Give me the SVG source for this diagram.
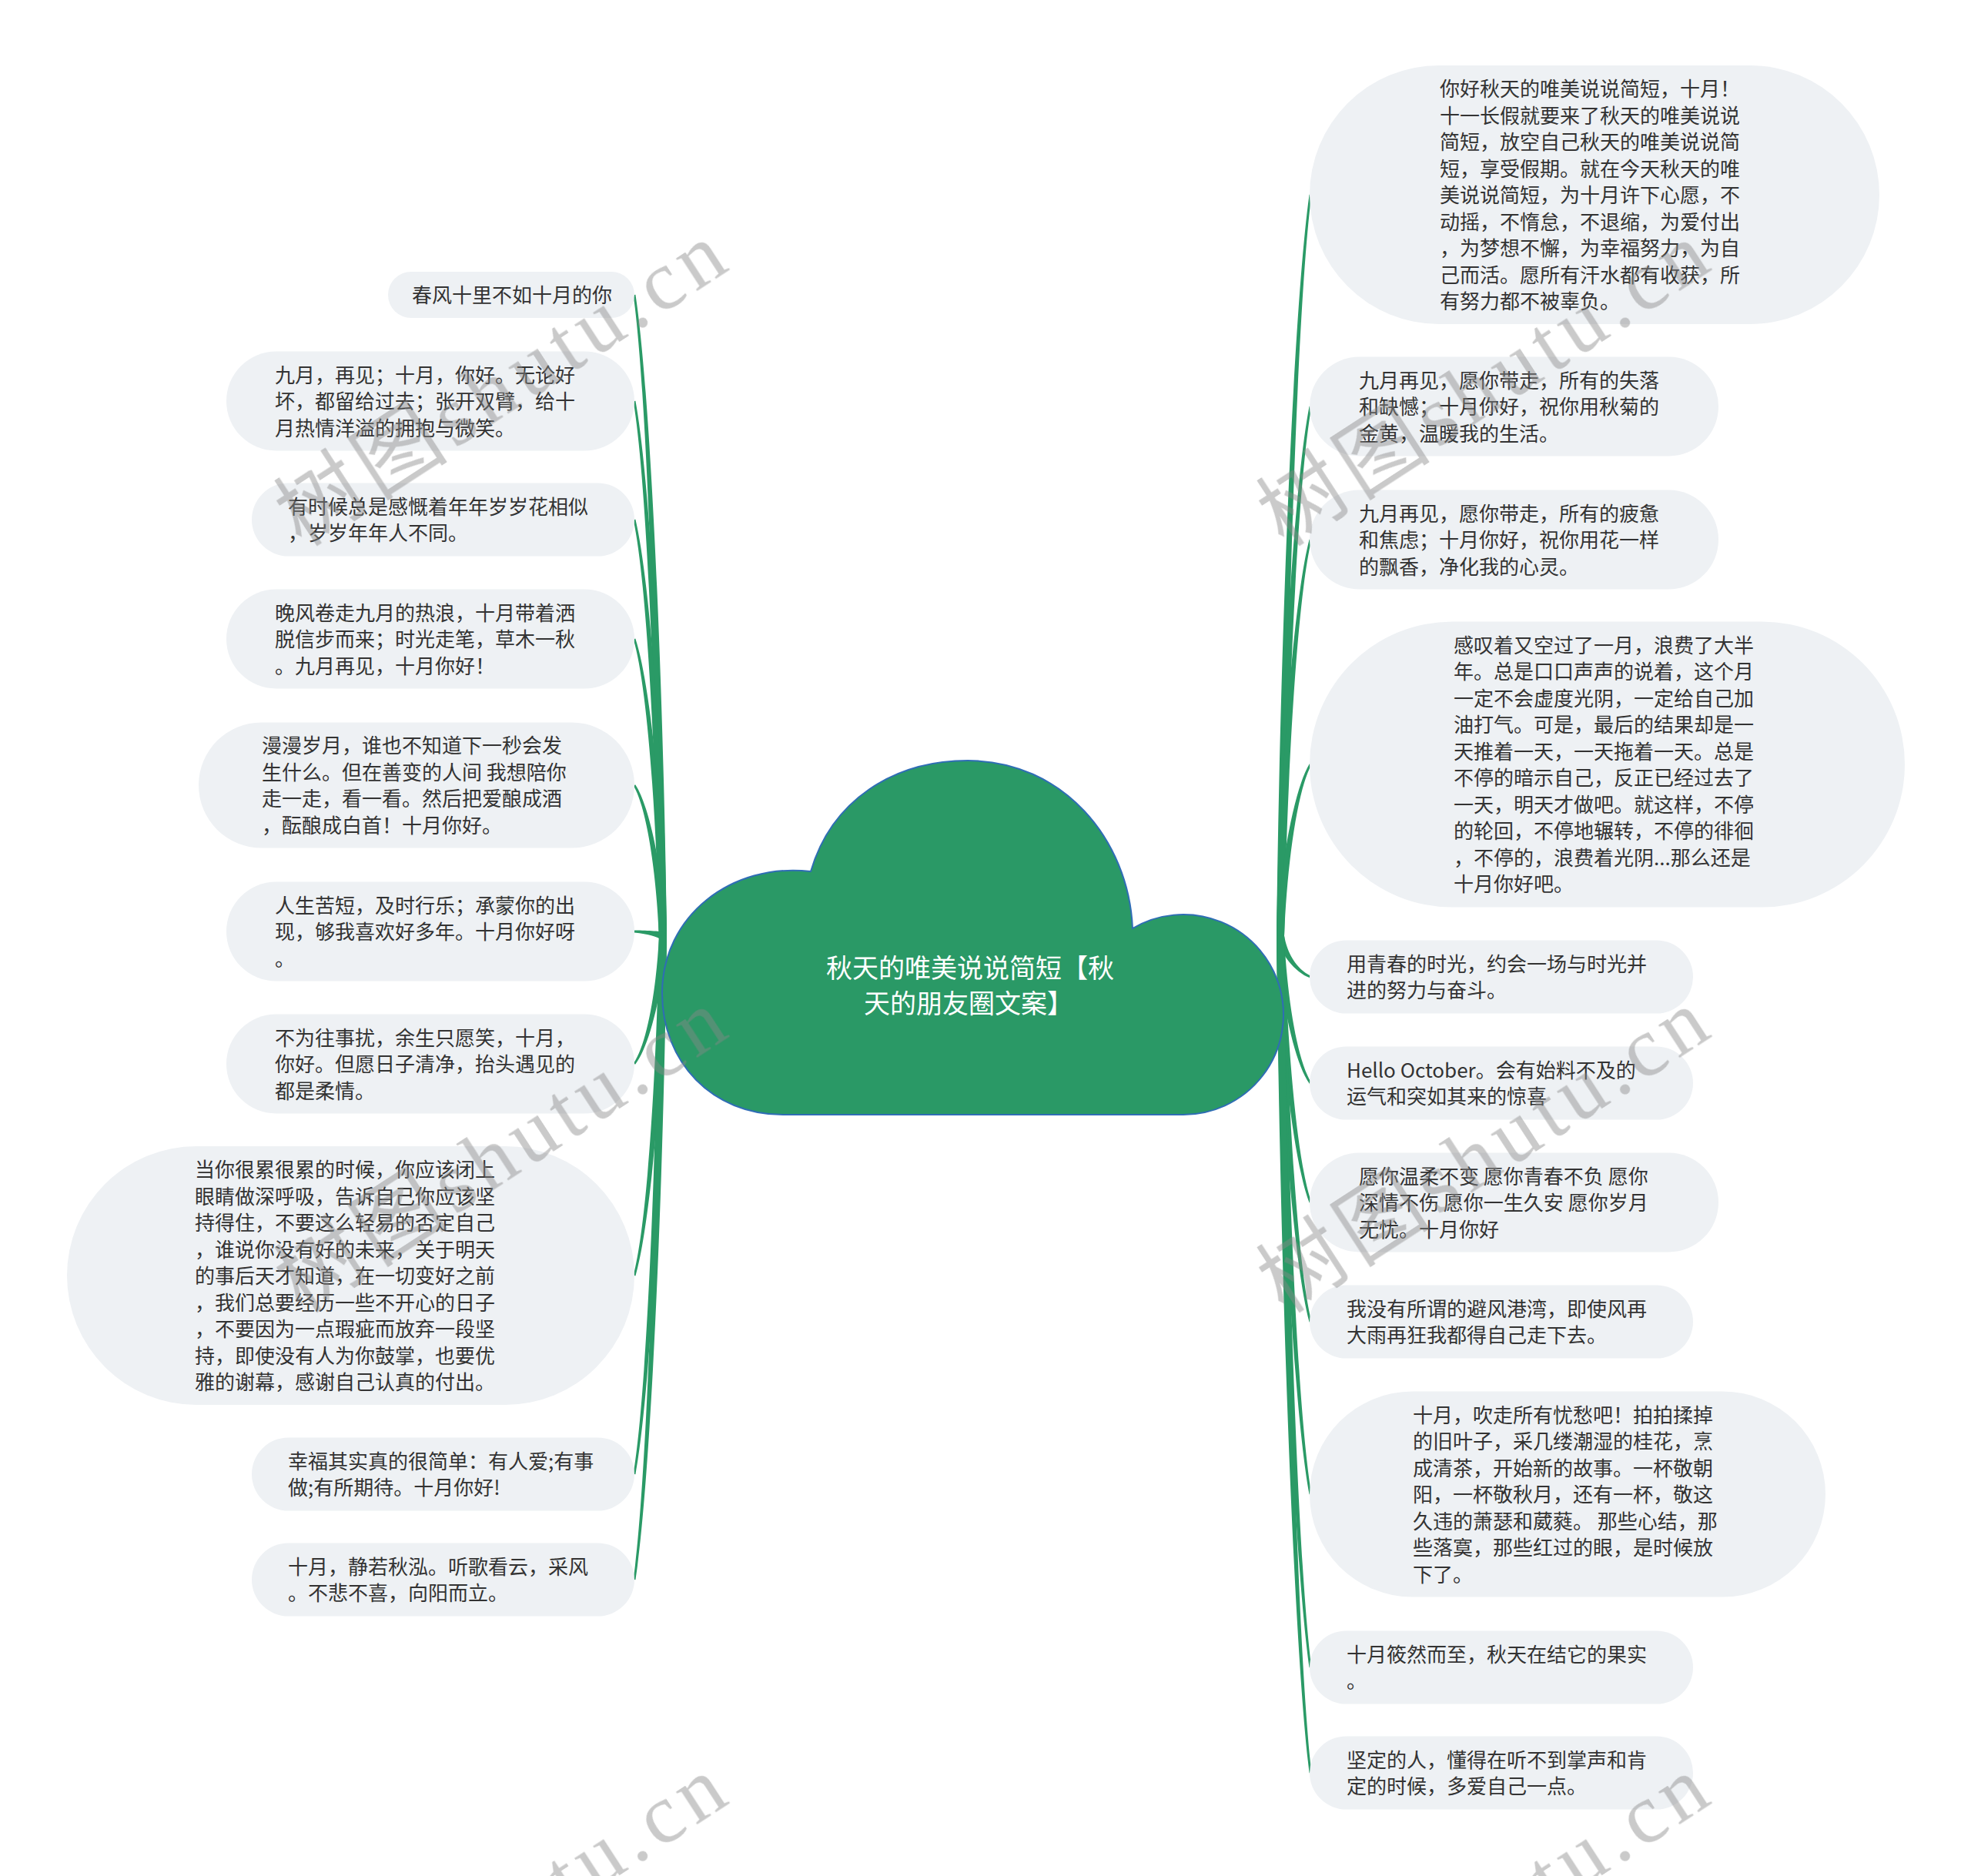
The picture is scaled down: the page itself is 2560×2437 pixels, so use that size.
<svg xmlns="http://www.w3.org/2000/svg" width="2560" height="2437" viewBox="0 0 2560 2437">
<style>
.bg{fill:#ffffff}
.node rect{fill:#eef1f4}
.node text{font-family:"Noto Sans CJK SC","Liberation Sans",sans-serif;font-size:26px;fill:#333333}
.br{fill:#2a9a66}
.root-shape{fill:#2a9966;stroke:#2f6db5;stroke-width:2}
.root-text{font-family:"Noto Sans CJK SC","Liberation Sans",sans-serif;font-size:34px;fill:#ffffff;text-anchor:middle}
.wm text{font-family:"Liberation Serif","Noto Sans CJK SC",serif;font-size:110px;fill:#888888}
</style>
<rect class="bg" x="0" y="0" width="2560" height="2437"/>

<g id="connectors">
<path class="br" d="M866,1215.9 C861.8,882.8 844.7,507.7 825.4,382.8 L822.6,383.2 C840.3,508.3 852.8,882.9 856,1216.1 Z"/>
<path class="br" d="M866,1215.9 C861.8,937.9 844.7,624.9 825.4,520.8 L822.6,521.2 C840.3,625.6 852.8,938.1 856,1216.1 Z"/>
<path class="br" d="M866,1215.9 C861.8,999.5 844.7,755.7 825.4,674.7 L822.6,675.3 C840.4,756.6 852.8,999.7 856,1216.1 Z"/>
<path class="br" d="M866,1215.9 C861.8,1061.5 844.6,887.2 825.3,829.6 L822.7,830.4 C840.4,888.6 852.8,1061.7 856,1216.1 Z"/>
<path class="br" d="M866,1215.8 C861.8,1137.4 844.4,1048.2 825.2,1019.3 L822.8,1020.8 C840.6,1050.6 852.8,1137.8 856,1216.2 Z"/>
<path class="br" d="M863.7,1211.8 C859.8,1209.8 842.6,1208.7 824.1,1208.6 L823.9,1211.4 C842.4,1213.1 854.9,1217.4 858.3,1220.2 Z"/>
<path class="br" d="M866,1216.3 C861.8,1282.7 844.3,1358.4 825.1,1382.8 L822.9,1381.2 C840.7,1355.8 852.8,1282.2 856,1215.7 Z"/>
<path class="br" d="M866,1216.1 C861.8,1392.5 844.6,1591.4 825.4,1657.4 L822.7,1656.6 C840.4,1590.3 852.8,1392.3 856,1215.9 Z"/>
<path class="br" d="M866,1216.1 C861.8,1495.7 844.7,1810.5 825.4,1915.2 L822.6,1914.8 C840.3,1809.8 852.8,1495.5 856,1215.9 Z"/>
<path class="br" d="M866,1216.1 C861.8,1550.5 844.7,1926.9 825.4,2052.2 L822.6,2051.8 C840.3,1926.3 852.8,1550.4 856,1215.9 Z"/>

<path class="br" d="M1668,1216 C1671.4,830.9 1684.7,397.7 1703.4,253.2 L1700.6,252.8 C1680.3,397.2 1662.4,830.8 1658,1216 Z"/>
<path class="br" d="M1668,1216.1 C1671.4,940.9 1684.7,631.6 1703.4,528.3 L1700.6,527.7 C1680.3,630.8 1662.4,940.7 1658,1215.9 Z"/>
<path class="br" d="M1668,1216.1 C1671.4,1010.1 1684.6,778.8 1703.4,701.3 L1700.6,700.7 C1680.4,777.7 1662.4,1009.9 1658,1215.9 Z"/>
<path class="br" d="M1668,1216.2 C1671.4,1127 1684.4,1027.6 1703.2,993.7 L1700.8,992.3 C1680.6,1025.3 1662.4,1126.6 1658,1215.8 Z"/>
<path class="br" d="M1667.9,1215.1 C1671.3,1236.4 1683.3,1259 1702.5,1267.7 L1701.5,1270.3 C1681.7,1263.1 1662.5,1238 1658.1,1216.9 Z"/>
<path class="br" d="M1668,1215.8 C1671.4,1292.2 1684.3,1377.1 1703.2,1406.2 L1700.8,1407.8 C1680.7,1379.6 1662.4,1292.6 1658,1216.3 Z"/>
<path class="br" d="M1668,1215.9 C1671.4,1354.3 1684.6,1509.3 1703.3,1561.5 L1700.7,1562.5 C1680.4,1510.9 1662.4,1354.5 1658,1216.1 Z"/>
<path class="br" d="M1668,1215.9 C1671.4,1416.3 1684.6,1641.3 1703.4,1716.7 L1700.6,1717.4 C1680.4,1642.4 1662.4,1416.5 1658,1216.1 Z"/>
<path class="br" d="M1668,1215.9 C1671.4,1505.9 1684.7,1831.9 1703.4,1940.8 L1700.6,1941.3 C1680.3,1832.6 1662.4,1506.1 1658,1216.1 Z"/>
<path class="br" d="M1668,1216 C1671.4,1596 1684.7,2023.2 1703.4,2165.8 L1700.6,2166.2 C1680.3,2023.8 1662.4,1596 1658,1216 Z"/>
<path class="br" d="M1668,1216 C1671.4,1650.8 1684.7,2139.7 1703.4,2302.8 L1700.6,2303.2 C1680.3,2140.2 1662.4,1650.8 1658,1216 Z"/>
</g>

<g id="root">
<path class="root-shape" d="M1017,1448 C925,1448 860,1380 860,1290 C860,1190 950,1120 1053,1132 C1080,1040 1160,988 1257,988 C1380,988 1466,1090 1471,1206 A130,130 0 1 1 1536,1448 Z"/>
<text class="root-text"><tspan x="1260" y="1270">秋天的唯美说说简短【秋</tspan><tspan x="1258" y="1316">天的朋友圈文案】</tspan></text>
</g>

<g id="L1" class="node"><rect x="504" y="353" width="320" height="60" rx="30"/>
<text><tspan x="535" y="393">春风十里不如十月的你</tspan></text></g>

<g id="L2" class="node"><rect x="294" y="456.5" width="530" height="129" rx="64.5"/>
<text><tspan x="357" y="496.5">九月，再见；十月，你好。无论好</tspan><tspan x="357" dy="34.5">坏，都留给过去；张开双臂，给十</tspan><tspan x="357" dy="34.5">月热情洋溢的拥抱与微笑。</tspan></text></g>

<g id="L3" class="node"><rect x="327" y="627.5" width="497" height="95" rx="47.5"/>
<text><tspan x="374" y="667.8">有时候总是感慨着年年岁岁花相似</tspan><tspan x="374" dy="34.5">，岁岁年年人不同。</tspan></text></g>

<g id="L4" class="node"><rect x="294" y="765.5" width="530" height="129" rx="64.5"/>
<text><tspan x="357" y="805.5">晚风卷走九月的热浪，十月带着洒</tspan><tspan x="357" dy="34.5">脱信步而来；时光走笔，草木一秋</tspan><tspan x="357" dy="34.5">。九月再见，十月你好！</tspan></text></g>

<g id="L5" class="node"><rect x="258" y="938.5" width="566" height="163" rx="81.5"/>
<text><tspan x="340" y="978.3">漫漫岁月，谁也不知道下一秒会发</tspan><tspan x="340" dy="34.5">生什么。但在善变的人间 我想陪你</tspan><tspan x="340" dy="34.5">走一走，看一看。然后把爱酿成酒</tspan><tspan x="340" dy="34.5">，酝酿成白首！十月你好。</tspan></text></g>

<g id="L6" class="node"><rect x="294" y="1145.5" width="530" height="129" rx="64.5"/>
<text><tspan x="357" y="1185.5">人生苦短，及时行乐；承蒙你的出</tspan><tspan x="357" dy="34.5">现，够我喜欢好多年。十月你好呀</tspan><tspan x="357" dy="34.5">。</tspan></text></g>

<g id="L7" class="node"><rect x="294" y="1317.5" width="530" height="129" rx="64.5"/>
<text><tspan x="357" y="1357.5">不为往事扰，余生只愿笑，十月，</tspan><tspan x="357" dy="34.5">你好。但愿日子清净，抬头遇见的</tspan><tspan x="357" dy="34.5">都是柔情。</tspan></text></g>

<g id="L8" class="node"><rect x="87" y="1489" width="737" height="336" rx="168"/>
<text><tspan x="253" y="1529">当你很累很累的时候，你应该闭上</tspan><tspan x="253" dy="34.5">眼睛做深呼吸，告诉自己你应该坚</tspan><tspan x="253" dy="34.5">持得住，不要这么轻易的否定自己</tspan><tspan x="253" dy="34.5">，谁说你没有好的未来，关于明天</tspan><tspan x="253" dy="34.5">的事后天才知道，在一切变好之前</tspan><tspan x="253" dy="34.5">，我们总要经历一些不开心的日子</tspan><tspan x="253" dy="34.5">，不要因为一点瑕疵而放弃一段坚</tspan><tspan x="253" dy="34.5">持，即使没有人为你鼓掌，也要优</tspan><tspan x="253" dy="34.5">雅的谢幕，感谢自己认真的付出。</tspan></text></g>

<g id="L9" class="node"><rect x="327" y="1867.5" width="497" height="95" rx="47.5"/>
<text><tspan x="374" y="1907.8">幸福其实真的很简单：有人爱;有事</tspan><tspan x="374" dy="34.5">做;有所期待。十月你好!</tspan></text></g>

<g id="L10" class="node"><rect x="327" y="2004.5" width="497" height="95" rx="47.5"/>
<text><tspan x="374" y="2044.8">十月，静若秋泓。听歌看云，采风</tspan><tspan x="374" dy="34.5">。不悲不喜，向阳而立。</tspan></text></g>

<g id="R1" class="node"><rect x="1701" y="85" width="740" height="336" rx="168"/>
<text><tspan x="1870" y="125">你好秋天的唯美说说简短，十月！</tspan><tspan x="1870" dy="34.5">十一长假就要来了秋天的唯美说说</tspan><tspan x="1870" dy="34.5">简短，放空自己秋天的唯美说说简</tspan><tspan x="1870" dy="34.5">短，享受假期。就在今天秋天的唯</tspan><tspan x="1870" dy="34.5">美说说简短，为十月许下心愿，不</tspan><tspan x="1870" dy="34.5">动摇，不惰怠，不退缩，为爱付出</tspan><tspan x="1870" dy="34.5">，为梦想不懈，为幸福努力，为自</tspan><tspan x="1870" dy="34.5">己而活。愿所有汗水都有收获，所</tspan><tspan x="1870" dy="34.5">有努力都不被辜负。</tspan></text></g>

<g id="R2" class="node"><rect x="1701" y="463.5" width="531" height="129" rx="64.5"/>
<text><tspan x="1765" y="503.5">九月再见，愿你带走，所有的失落</tspan><tspan x="1765" dy="34.5">和缺憾；十月你好，祝你用秋菊的</tspan><tspan x="1765" dy="34.5">金黄，温暖我的生活。</tspan></text></g>

<g id="R3" class="node"><rect x="1701" y="636.5" width="531" height="129" rx="64.5"/>
<text><tspan x="1765" y="676.5">九月再见，愿你带走，所有的疲惫</tspan><tspan x="1765" dy="34.5">和焦虑；十月你好，祝你用花一样</tspan><tspan x="1765" dy="34.5">的飘香，净化我的心灵。</tspan></text></g>

<g id="R4" class="node"><rect x="1701" y="807.5" width="773" height="371" rx="185.5"/>
<text><tspan x="1888" y="847.8">感叹着又空过了一月，浪费了大半</tspan><tspan x="1888" dy="34.5">年。总是口口声声的说着，这个月</tspan><tspan x="1888" dy="34.5">一定不会虚度光阴，一定给自己加</tspan><tspan x="1888" dy="34.5">油打气。可是，最后的结果却是一</tspan><tspan x="1888" dy="34.5">天推着一天，一天拖着一天。总是</tspan><tspan x="1888" dy="34.5">不停的暗示自己，反正已经过去了</tspan><tspan x="1888" dy="34.5">一天，明天才做吧。就这样，不停</tspan><tspan x="1888" dy="34.5">的轮回，不停地辗转，不停的徘徊</tspan><tspan x="1888" dy="34.5">，不停的，浪费着光阴...那么还是</tspan><tspan x="1888" dy="34.5">十月你好吧。</tspan></text></g>

<g id="R5" class="node"><rect x="1701" y="1221.5" width="498" height="95" rx="47.5"/>
<text><tspan x="1749" y="1261.8">用青春的时光，约会一场与时光并</tspan><tspan x="1749" dy="34.5">进的努力与奋斗。</tspan></text></g>

<g id="R6" class="node"><rect x="1701" y="1359.5" width="498" height="95" rx="47.5"/>
<text><tspan x="1749" y="1399.8">Hello October。会有始料不及的</tspan><tspan x="1749" dy="34.5">运气和突如其来的惊喜</tspan></text></g>

<g id="R7" class="node"><rect x="1701" y="1497.5" width="531" height="129" rx="64.5"/>
<text><tspan x="1765" y="1537.5">愿你温柔不变 愿你青春不负 愿你</tspan><tspan x="1765" dy="34.5">深情不伤 愿你一生久安 愿你岁月</tspan><tspan x="1765" dy="34.5">无忧。十月你好</tspan></text></g>

<g id="R8" class="node"><rect x="1701" y="1669.5" width="498" height="95" rx="47.5"/>
<text><tspan x="1749" y="1709.8">我没有所谓的避风港湾，即使风再</tspan><tspan x="1749" dy="34.5">大雨再狂我都得自己走下去。</tspan></text></g>

<g id="R9" class="node"><rect x="1701" y="1807.5" width="670" height="267" rx="133.5"/>
<text><tspan x="1835" y="1847.5">十月，吹走所有忧愁吧！拍拍揉掉</tspan><tspan x="1835" dy="34.5">的旧叶子，采几缕潮湿的桂花，烹</tspan><tspan x="1835" dy="34.5">成清茶，开始新的故事。一杯敬朝</tspan><tspan x="1835" dy="34.5">阳，一杯敬秋月，还有一杯，敬这</tspan><tspan x="1835" dy="34.5">久违的萧瑟和葳蕤。 那些心结，那</tspan><tspan x="1835" dy="34.5">些落寞，那些红过的眼，是时候放</tspan><tspan x="1835" dy="34.5">下了。</tspan></text></g>

<g id="R10" class="node"><rect x="1701" y="2118.5" width="498" height="95" rx="47.5"/>
<text><tspan x="1749" y="2158.8">十月筱然而至，秋天在结它的果实</tspan><tspan x="1749" dy="34.5">。</tspan></text></g>

<g id="R11" class="node"><rect x="1701" y="2255.5" width="498" height="95" rx="47.5"/>
<text><tspan x="1749" y="2295.8">坚定的人，懂得在听不到掌声和肯</tspan><tspan x="1749" dy="34.5">定的时候，多爱自己一点。</tspan></text></g>

<g id="watermarks" class="wm" opacity="0.45">
<text transform="translate(392,712) rotate(-33)" textLength="665" lengthAdjust="spacing">树图shutu.cn</text>
<text transform="translate(1668,712) rotate(-33)" textLength="665" lengthAdjust="spacing">树图shutu.cn</text>
<text transform="translate(392,1708) rotate(-33)" textLength="665" lengthAdjust="spacing">树图shutu.cn</text>
<text transform="translate(1668,1708) rotate(-33)" textLength="665" lengthAdjust="spacing">树图shutu.cn</text>
<text transform="translate(392,2704) rotate(-33)" textLength="665" lengthAdjust="spacing">树图shutu.cn</text>
<text transform="translate(1668,2704) rotate(-33)" textLength="665" lengthAdjust="spacing">树图shutu.cn</text>
</g>
</svg>
